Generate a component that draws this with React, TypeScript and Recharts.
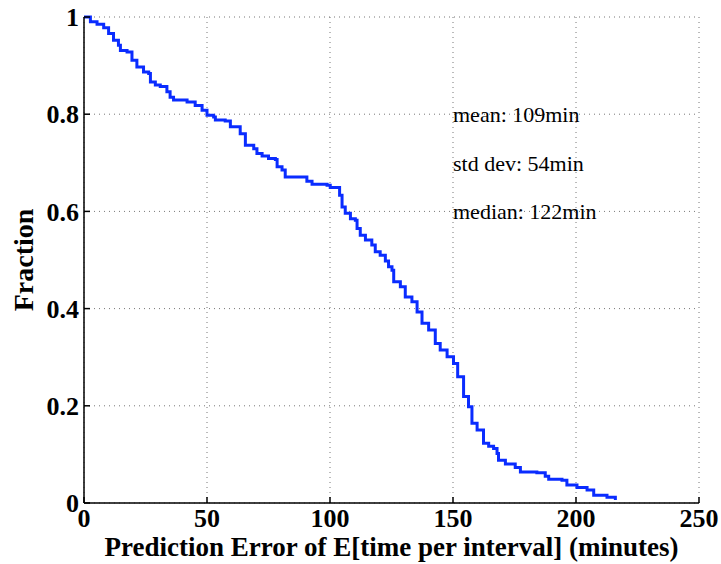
import React from 'react';
import {
  LineChart, Line, XAxis, YAxis, CartesianGrid, ReferenceDot
} from 'recharts';

// prediction error (minutes) and fraction of intervals with at least that error
const errorMinutes = [
  0, 2.6, 5.3, 8, 10, 12, 14, 14.8, 17.5, 19.5, 21.5, 24.2, 26.3, 27, 29, 31, 33.7, 35, 36.4,
  41.9, 45.2, 48, 50, 52.7, 53.4, 57.4, 59.5, 63.5, 65.6, 69, 70.3, 72.4, 75, 77.8, 78.5, 80.5,
  81.8, 88.6, 90.6, 92.7, 98.8, 100.1, 102.8, 103.9, 104.9, 106.2, 108.3, 110.3, 111, 112.3,
  114.4, 117, 118.4, 120.4, 122.5, 123.8, 125.2, 125.9, 128.6, 130.6, 133.3, 135.4, 137.4,
  140.1, 142.8, 144.8, 147.6, 150.2, 151.9, 154.3, 156.3, 157.7, 159.8, 162.4, 164.5, 166.5,
  167.9, 168.5, 171.3, 175.3, 177.4, 184.1, 187.5, 188.9, 194.3, 196.3, 200.4, 204.5, 207.2,
  212.6, 216
];
const fraction = [
  1.0, 0.99, 0.985, 0.978, 0.966, 0.952, 0.942, 0.931, 0.928, 0.911, 0.897, 0.887, 0.884, 0.866,
  0.86, 0.857, 0.846, 0.835, 0.829, 0.825, 0.818, 0.808, 0.798, 0.794, 0.788, 0.786, 0.774, 0.76,
  0.736, 0.729, 0.719, 0.714, 0.709, 0.707, 0.692, 0.685, 0.671, 0.671, 0.662, 0.656, 0.654,
  0.649, 0.649, 0.633, 0.609, 0.596, 0.585, 0.582, 0.565, 0.551, 0.541, 0.531, 0.517, 0.51,
  0.498, 0.486, 0.479, 0.455, 0.445, 0.424, 0.414, 0.393, 0.37, 0.356, 0.328, 0.315, 0.301,
  0.287, 0.26, 0.219, 0.198, 0.164, 0.15, 0.123, 0.117, 0.112, 0.102, 0.088, 0.08, 0.073, 0.064,
  0.062, 0.055, 0.049, 0.047, 0.037, 0.032, 0.027, 0.016, 0.012, 0.006
];

const xTicks = [0, 50, 100, 150, 200, 250];
const yTicks = [0, 0.2, 0.4, 0.6, 0.8, 1];

const statLabels = ['mean: 109min', 'std dev: 54min', 'median: 122min'];
const statX = [150, 150, 150];
const statY = [0.8, 0.7, 0.6];

const data = errorMinutes.map((x, i) => ({ x, f: fraction[i] }));

const serif = '"Liberation Serif", "Times New Roman", serif';
const tickStyle = { fontFamily: serif, fontSize: 26, fontWeight: 'bold', fill: '#000' };
const titleStyle = { fontFamily: serif, fontSize: 27, fontWeight: 'bold', fill: '#000' };

const App: React.FC = () => {
  return (
    <div style={{ position: 'absolute', left: 0, top: 0, background: '#fff' }}>
      <LineChart
        width={721}
        height={564}
        data={data}
        margin={{ top: 17, right: 22, bottom: 0, left: 0 }}
      >
        <CartesianGrid stroke="#777" strokeDasharray="1 4" />
        <XAxis
          dataKey="x"
          type="number"
          domain={[0, 250]}
          ticks={xTicks}
          height={61}
          stroke="#000"
          strokeWidth={1.5}
          tickSize={-6}
          tickMargin={12}
          tick={tickStyle}
          label={{
            value: 'Prediction Error of E[time per interval] (minutes)',
            position: 'insideBottom',
            offset: 8,
            style: titleStyle
          }}
        />
        <XAxis
          xAxisId="top"
          orientation="top"
          type="number"
          domain={[0, 250]}
          ticks={xTicks}
          height={0}
          stroke="#000"
          strokeWidth={1.5}
          tickSize={-6}
          tick={false}
        />
        <YAxis
          type="number"
          domain={[0, 1]}
          ticks={yTicks}
          width={84}
          stroke="#000"
          strokeWidth={1.5}
          tickSize={-6}
          tickMargin={11}
          tick={tickStyle}
          tickFormatter={(v: number) => String(v)}
          label={{
            content: (props: any) => {
              const vb = props.viewBox || {};
              const cx = (vb.x ?? 0) + 33;
              const cy = (vb.y ?? 0) + (vb.height ?? 0) / 2;
              return (
                <text
                  x={cx}
                  y={cy}
                  transform={`rotate(-90 ${cx} ${cy})`}
                  textAnchor="middle"
                  style={{ ...titleStyle, fontSize: 28 }}
                >
                  Fraction
                </text>
              );
            }
          }}
        />
        <YAxis
          yAxisId="right"
          orientation="right"
          type="number"
          domain={[0, 1]}
          ticks={yTicks}
          width={0}
          stroke="#000"
          strokeWidth={1.5}
          tickSize={-6}
          tick={false}
        />
        {statLabels.map((txt, i) => (
          <ReferenceDot
            key={txt}
            x={statX[i]}
            y={statY[i]}
            r={0}
            stroke="none"
            fill="none"
            label={{
              value: txt,
              position: 'right',
              offset: 0,
              style: { fontFamily: serif, fontSize: 22, fill: '#000' }
            }}
          />
        ))}
        <Line
          type="stepAfter"
          dataKey="f"
          stroke="#0a2cff"
          strokeWidth={3}
          dot={false}
          isAnimationActive={false}
        />
      </LineChart>
    </div>
  );
};

export default App;
